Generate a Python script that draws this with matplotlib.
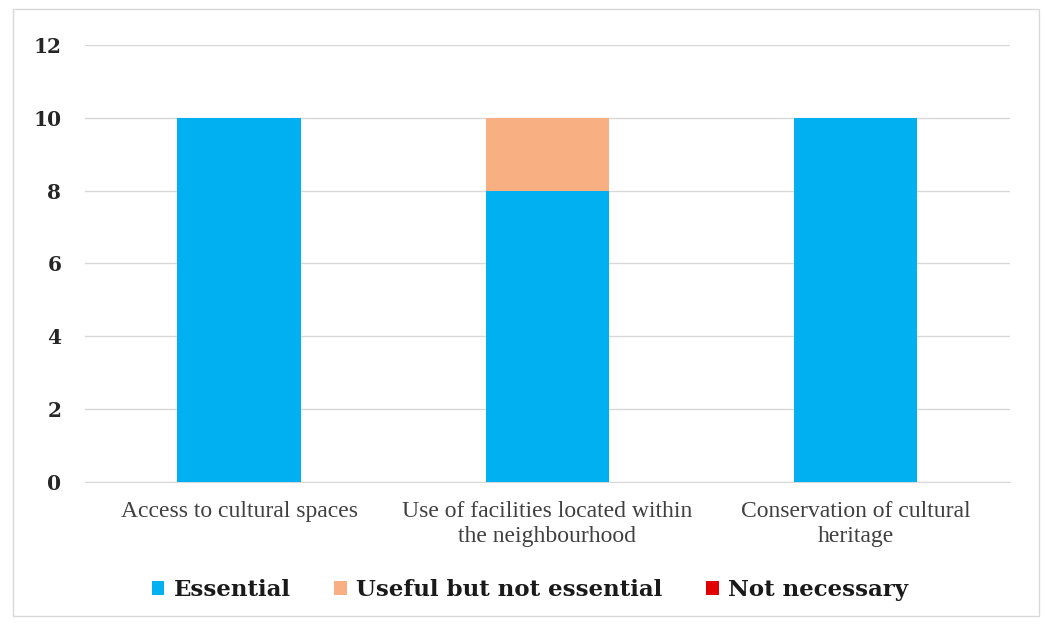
import matplotlib.pyplot as plt
import numpy as np
from matplotlib.patches import Rectangle

# Dati
categorie = ["Access to cultural spaces",
             "Use of facilities located within\nthe neighbourhood",
             "Conservation of cultural\nheritage"]
essential = [10, 8, 10]
useful = [0, 2, 0]
not_necessary = [0, 0, 0]
serie = ["Essential", "Useful but not essential", "Not necessary"]
colori = ["#00B0F0", "#F8B083", "#E00000"]

fig = plt.figure(figsize=(10.45, 6.25), dpi=100)
ax = fig.add_axes([0.0813, 0.229, 0.885, 0.699])

x = np.arange(len(categorie))
w = 0.4
b1 = ax.bar(x, essential, w, color=colori[0], label=serie[0], zorder=3)
b2 = ax.bar(x, useful, w, bottom=essential, color=colori[1], label=serie[1], zorder=3)
bottom3 = np.array(essential) + np.array(useful)
b3 = ax.bar(x, not_necessary, w, bottom=bottom3, color=colori[2], label=serie[2], zorder=3)

ax.set_xlim(-0.5, len(categorie) - 0.5)
ax.set_ylim(0, 12)
ax.set_yticks(range(0, 13, 2))
ax.yaxis.grid(True, color="#D9D9D9", linewidth=1, zorder=0)
for s in ["top", "right", "left"]:
    ax.spines[s].set_visible(False)
ax.spines["bottom"].set_color("#D9D9D9")
ax.tick_params(axis="both", length=0)
ax.tick_params(axis="y", pad=17)
ax.tick_params(axis="x", pad=14)

ax.set_xticks(x)
ax.set_xticklabels(categorie, fontfamily="Liberation Serif", fontsize=17,
                   color="#404040", linespacing=1.25)
for t in ax.get_yticklabels():
    t.set_fontfamily("DejaVu Serif")
    t.set_fontweight("bold")
    t.set_fontsize(14.5)
    t.set_color("#262626")

leg = fig.legend(handles=[b1, b2, b3], labels=serie, loc="center",
                 bbox_to_anchor=(0.507, 0.056), ncol=3, frameon=False,
                 handlelength=0.55, handleheight=0.55, handletextpad=0.4,
                 columnspacing=1.9,
                 prop={"family": "DejaVu Serif", "weight": "bold", "size": 16.5})
for t in leg.get_texts():
    t.set_color("#1a1a1a")

# Cornice
fig.patches.append(Rectangle((0.012, 0.015), 0.982, 0.97, transform=fig.transFigure,
                             fill=False, edgecolor="#D9D9D9", linewidth=1))

fig.savefig("out.png", dpi=100)
